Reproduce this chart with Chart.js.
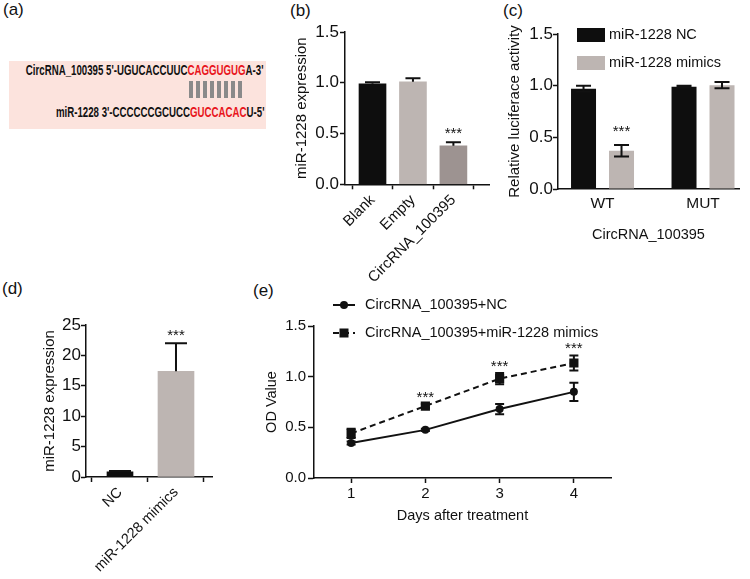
<!DOCTYPE html>
<html><head><meta charset="utf-8">
<script src="https://cdn.jsdelivr.net/npm/chart.js@4.4.1/dist/chart.umd.min.js"></script>
<style>
html,body{margin:0;padding:0;background:#fff;}
body{width:750px;height:579px;position:relative;overflow:hidden;font-family:"Liberation Sans",Arial,sans-serif;color:#111;}
canvas{position:absolute;}
.tag{position:absolute;font-size:17px;line-height:17px;}
#seq{position:absolute;left:9px;top:61px;width:257px;height:68px;background:#fce3dd;}
.ln{position:absolute;right:2px;white-space:nowrap;font-weight:bold;font-size:14px;line-height:14px;transform-origin:right center;}
.red{color:#e8141b;}
#pairs{position:absolute;left:179px;top:20px;width:55px;height:17px;display:flex;justify-content:space-around;}
#pairs i{display:block;width:4px;background:#8a8a8a;}
</style></head>
<body>
<div class="tag" style="left:3px;top:1px">(a)</div>
<div class="tag" style="left:290px;top:2px">(b)</div>
<div class="tag" style="left:503px;top:2px">(c)</div>
<div class="tag" style="left:2px;top:280px">(d)</div>
<div class="tag" style="left:253px;top:282px">(e)</div>

<div id="seq">
  <div class="ln" id="l1" style="top:2px">CircRNA_100395 5'-UGUCACCUUC<span class="red">CAGGUGUG</span>A-3'</div>
  <div id="pairs"><i></i><i></i><i></i><i></i><i></i><i></i><i></i><i></i></div>
  <div class="ln" id="l2" style="top:44px">miR-1228 3'-CCCCCCGCUCC<span class="red">GUCCACAC</span>U-5'</div>
</div>

<canvas id="cb" width="250" height="290" style="left:250px;top:0"></canvas>
<canvas id="cc" width="250" height="250" style="left:500px;top:0"></canvas>
<canvas id="cd" width="250" height="289" style="left:0;top:290px"></canvas>
<canvas id="ce" width="500" height="299" style="left:250px;top:280px"></canvas>

<script>
/* ===== 數據 ===== */
const B_CATS=['Blank','Empty','CircRNA_100395'];
const B_VALS=[0.99,1.01,0.38];
const B_ERRS=[0.015,0.035,0.035];
const B_STARS=['','','***'];

const C_CATS=['WT','MUT'];
const C_NC=[0.97,0.99];
const C_NC_ERR=[0.03,0.01];
const C_MIM=[0.37,1.005];
const C_MIM_ERR=[0.055,0.03];
const C_STARS=['***',''];

const D_CATS=['NC','miR-1228 mimics'];
const D_VALS=[0.85,17.4];
const D_ERRS=[0.15,4.6];
const D_STARS=['','***'];

const E_DAYS=['1','2','3','4'];
const E_NC=[0.345,0.475,0.68,0.85];
const E_NC_ERR=[0.015,0.01,0.05,0.09];
const E_MIM=[0.44,0.71,0.98,1.135];
const E_MIM_ERR=[0.045,0.02,0.055,0.075];
const E_STARS=['','***','***','***'];

/* ===== 樣式 ===== */
const FONT='"Liberation Sans", Arial, sans-serif',INK='#111';
const BLACK='#0e0e0e',LIGHT='#bdb5b2',MID='#9d9391';

/* 序列框縮放 */
const l1=document.getElementById('l1'),l2=document.getElementById('l2');
const k=238/l1.offsetWidth;
[l1,l2].forEach(e=>e.style.transform=`scaleX(${k})`);

/* ===== 外掛：誤差線 + 星號 ===== */
const errPlugin={id:'errBars',afterDatasetsDraw(chart,args,o){
  const ctx=chart.ctx,ys=chart.scales.y;
  ctx.save();ctx.strokeStyle=INK;ctx.lineWidth=o.width;ctx.fillStyle=INK;
  ctx.font=`15px ${FONT}`;ctx.textAlign='center';ctx.textBaseline='alphabetic';
  chart.data.datasets.forEach((ds,i)=>{
    if(!ds.errors)return;
    chart.getDatasetMeta(i).data.forEach((el,j)=>{
      const d=ds.data[j],v=typeof d==='object'?d.y:d,e=ds.errors[j];
      const x=el.x,yt=ys.getPixelForValue(v+e),yb=ys.getPixelForValue(o.oneSided?v:v-e),c=o.cap/2;
      ctx.beginPath();
      ctx.moveTo(x,yb);ctx.lineTo(x,yt);
      ctx.moveTo(x-c,yt);ctx.lineTo(x+c,yt);
      if(!o.oneSided){ctx.moveTo(x-c,yb);ctx.lineTo(x+c,yb);}
      ctx.stroke();
      if(ds.stars&&ds.stars[j])ctx.fillText(ds.stars[j],x,yt-o.gap);
    });
  });
  ctx.restore();
}};

/* ===== 外掛：圖例 ===== */
const keyPlugin={id:'key',afterDraw(chart,args,o){
  if(!o.show)return;
  const ctx=chart.ctx,a=chart.chartArea;
  ctx.save();ctx.font=`14.5px ${FONT}`;ctx.textBaseline='middle';
  chart.data.datasets.forEach((ds,i)=>{
    const y=a.top+o.dy+i*o.step,x=a.left+o.dx;
    if(o.kind==='box'){ctx.fillStyle=ds.backgroundColor;ctx.fillRect(x,y-7,28,14);}
    else{
      ctx.strokeStyle=INK;ctx.lineWidth=2;ctx.setLineDash(ds.borderDash||[]);
      ctx.beginPath();ctx.moveTo(x,y);ctx.lineTo(x+22,y);ctx.stroke();ctx.setLineDash([]);
      ctx.fillStyle=INK;
      if(ds.pointStyle==='rect'){ctx.fillRect(x+11-4.5,y-4.5,9,9);}
      else{ctx.beginPath();ctx.arc(x+11,y,4,0,Math.PI*2);ctx.fill();}
    }
    ctx.fillStyle=INK;ctx.fillText(ds.label,a.left+o.tx,y);
  });
  ctx.restore();
}};

/* ===== 軸 ===== */
function yAxis(max,step,fmt,title,s){
  return {min:0,max,
    ticks:{stepSize:step,color:INK,font:{family:FONT,size:s.tick},padding:s.pad,callback:fmt},
    grid:{drawOnChartArea:false,tickLength:s.tl,tickWidth:1.5,tickColor:INK},
    border:{color:INK,width:1.5},
    title:{display:true,text:title,color:INK,font:{family:FONT,size:s.tsize},padding:{top:s.tp,bottom:0}},
    afterFit(sc){sc.width=s.w;}};
}
function xLin(cats,min,max,s){
  return {type:'linear',min,max,offset:false,
    afterBuildTicks(sc){sc.ticks=cats.map((_,i)=>({value:i}));},
    ticks:{autoSkip:false,color:INK,font:{family:FONT,size:s.tick},padding:s.pad,
      minRotation:s.rot,maxRotation:s.rot,callback:v=>cats[v]},
    grid:{drawOnChartArea:false,tickLength:5,tickWidth:1.5,tickColor:s.tickColor||INK},
    border:{color:INK,width:1.5},
    title:s.title?{display:true,text:s.title,color:INK,font:{family:FONT,size:14.5},padding:{top:0,bottom:6}}:{display:false},
    afterFit(sc){sc.height=s.h;}};
}
const f1=v=>v.toFixed(1);
const base={responsive:false,animation:false,events:[],
  plugins:{legend:{display:false},tooltip:{enabled:false}}};

/* ===== (b) ===== */
new Chart(document.getElementById('cb'),{type:'bar',
  data:{datasets:[{data:B_VALS.map((v,i)=>({x:i,y:v})),errors:B_ERRS,stars:B_STARS,
    backgroundColor:[BLACK,LIGHT,MID],borderWidth:0,barThickness:27}]},
  options:{...base,layout:{padding:{left:40,top:32,right:11,bottom:0}},
    plugins:{...base.plugins,errBars:{width:2,cap:15,oneSided:true,gap:4.5},key:{show:false}},
    scales:{x:xLin(B_CATS,-0.68,2.88,{tick:15,pad:2,rot:45,h:105.7}),
      y:yAxis(1.5,0.5,f1,'miR-1228 expression',{tick:17,pad:1,tl:5,tsize:15,tp:3,w:55})}},
  plugins:[errPlugin,keyPlugin]});

/* ===== (c) ===== */
new Chart(document.getElementById('cc'),{type:'bar',
  data:{datasets:[
    {label:'miR-1228 NC',data:C_NC.map((v,i)=>({x:i,y:v})),errors:C_NC_ERR,backgroundColor:BLACK,
      borderWidth:0,categoryPercentage:0.756,barPercentage:0.658},
    {label:'miR-1228 mimics',data:C_MIM.map((v,i)=>({x:i,y:v})),errors:C_MIM_ERR,stars:C_STARS,backgroundColor:LIGHT,
      borderWidth:0,categoryPercentage:0.756,barPercentage:0.658}]},
  options:{...base,layout:{padding:{left:4,top:34,right:11,bottom:0}},
    plugins:{...base.plugins,errBars:{width:2,cap:15,oneSided:false,gap:9},
      key:{show:true,kind:'box',dx:19,dy:1,step:28,tx:51}},
    scales:{x:xLin(C_CATS,-0.443,1.358,{tick:15.5,pad:0,rot:0,h:61,tickColor:'rgba(0,0,0,0)',title:'CircRNA_100395'}),
      y:yAxis(1.5,0.5,f1,'Relative luciferace activity',{tick:17,pad:0,tl:5,tsize:15,tp:2,w:54})}},
  plugins:[errPlugin,keyPlugin]});

/* ===== (d) ===== */
new Chart(document.getElementById('cd'),{type:'bar',
  data:{datasets:[
    {data:[{x:0,y:D_VALS[0]}],errors:[D_ERRS[0]],stars:[D_STARS[0]],backgroundColor:BLACK,borderWidth:0,barThickness:26,grouped:false},
    {data:[{x:1,y:D_VALS[1]}],errors:[D_ERRS[1]],stars:[D_STARS[1]],backgroundColor:LIGHT,borderWidth:0,barThickness:36,grouped:false}]},
  options:{...base,layout:{padding:{left:38,top:35,right:38,bottom:0}},
    plugins:{...base.plugins,errBars:{width:2,cap:22,oneSided:true,gap:3},key:{show:false}},
    scales:{x:xLin(D_CATS,-0.607,1.643,{tick:14.5,pad:2,rot:45,h:102}),
      y:yAxis(25,5,v=>v,'miR-1228 expression',{tick:17,pad:0,tl:5,tsize:15,tp:3,w:48})}},
  plugins:[errPlugin,keyPlugin]});

/* ===== (e) ===== */
new Chart(document.getElementById('ce'),{type:'line',
  data:{labels:E_DAYS,datasets:[
    {label:'CircRNA_100395+NC',data:E_NC,errors:E_NC_ERR,borderColor:INK,borderWidth:2,
      pointStyle:'circle',pointRadius:4,pointBackgroundColor:INK,pointBorderWidth:0},
    {label:'CircRNA_100395+miR-1228 mimics',data:E_MIM,errors:E_MIM_ERR,stars:E_STARS,borderColor:INK,borderWidth:2,
      borderDash:[6,4],pointStyle:'rect',pointRadius:6.5,pointBackgroundColor:INK,pointBorderWidth:0}]},
  options:{...base,layout:{padding:{left:10,top:46,right:139,bottom:50}},
    plugins:{...base.plugins,errBars:{width:2,cap:9,oneSided:false,gap:2},
      key:{show:true,kind:'line',dx:19,dy:-21,step:28,tx:51}},
    scales:{
      x:{type:'category',offset:true,
        ticks:{color:INK,font:{family:FONT,size:15},padding:2,maxRotation:0},
        grid:{drawOnChartArea:false,offset:false,tickLength:5,tickWidth:1.5,tickColor:INK},
        border:{color:INK,width:1.5},
        title:{display:true,text:'Days after treatment',color:INK,font:{family:FONT,size:14.5},padding:{top:0,bottom:4}},
        afterFit(sc){sc.height=51;}},
      y:yAxis(1.5,0.5,f1,'OD Value',{tick:15,pad:2,tl:6,tsize:14.5,tp:3,w:54})}},
  plugins:[errPlugin,keyPlugin]});
</script>
</body></html>
